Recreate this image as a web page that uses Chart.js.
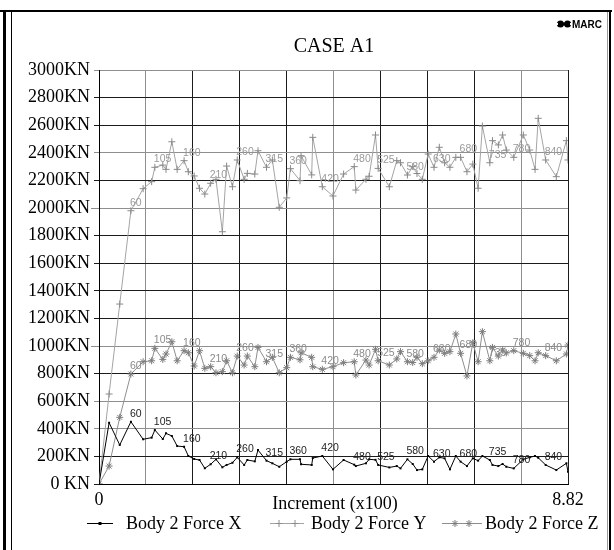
<!DOCTYPE html>
<html>
<head>
<meta charset="utf-8">
<script src="https://cdn.jsdelivr.net/npm/chart.js@4"></script>
<style>
  html, body { margin: 0; padding: 0; background: #fff; }
  canvas { display: block; }
</style>
</head>
<body>
<canvas id="chart" width="614" height="550"></canvas>
<script>
// Output increments (the x axis shows increment / 100)
const increments = [
  0, 19, 39, 60, 83, 99, 105, 120, 126, 137,
  147, 160, 168, 179, 189, 199, 210, 220, 232, 240,
  251, 260, 273, 279, 293, 299, 315, 326, 339, 353,
  360, 378, 380, 400, 402, 420, 440, 460, 480, 483,
  502, 508, 520, 525, 546, 560, 567, 580, 590, 598,
  608, 619, 630, 640, 650, 660, 671, 680, 692, 703,
  713, 721, 735, 740, 751, 759, 766, 780, 798, 810,
  820, 826, 840, 860, 879, 882
];

// Body 2 force components, KN
const forceX = [
  0, 444, 283, 451, 324, 336, 391, 326, 367, 348,
  275, 270, 203, 181, 174, 114, 143, 179, 121, 138,
  154, 193, 138, 174, 164, 246, 169, 150, 125, 162,
  179, 179, 143, 138, 188, 203, 106, 174, 140, 130,
  150, 179, 175, 138, 120, 130, 113, 179, 145, 101,
  106, 203, 162, 193, 186, 106, 203, 162, 130, 186,
  169, 203, 174, 138, 130, 145, 125, 113, 179, 193,
  203, 190, 138, 101, 150, 89
];
const forceY = [
  0, 652, 1304, 1980, 2140, 2191, 2295, 2311, 2280, 2480,
  2280, 2343, 2263, 2232, 2143, 2101, 2179, 2208, 1828, 2304,
  2154, 2348, 2208, 2251, 2246, 2415, 2295, 2348, 2005, 2073,
  2285, 2198, 2379, 2240, 2512, 2154, 2087, 2246, 2300, 2130,
  2208, 2230, 2529, 2287, 2154, 2343, 2328, 2239, 2300, 2250,
  2208, 2391, 2295, 2440, 2328, 2295, 2367, 2367, 2263, 2318,
  2143, 2594, 2328, 2488, 2457, 2529, 2420, 2367, 2529, 2420,
  2280, 2650, 2348, 2227, 2488, 2348
];
const forceZ = [
  0, 130, 483, 797, 886, 893, 983, 903, 942, 1031,
  893, 966, 951, 855, 966, 838, 850, 806, 814, 893,
  806, 927, 862, 927, 850, 990, 886, 918, 806, 843,
  918, 900, 951, 918, 850, 831, 850, 879, 886, 790,
  898, 862, 976, 893, 862, 906, 959, 886, 880, 918,
  872, 893, 918, 971, 947, 959, 1087, 947, 783, 1024,
  886, 1104, 893, 990, 927, 971, 950, 966, 947, 930,
  893, 951, 930, 893, 942, 1007
];

// Increments that carry a number tag on every curve
const taggedIncrements = [60, 105, 160, 210, 260, 315, 360, 420, 480, 525, 580, 630, 680, 735, 780, 840];

const seriesNames = ['Body 2 Force X', 'Body 2 Force Y', 'Body 2 Force Z'];
const xTickLabels = ['0', '8.82'];
const yTickValues = [0, 200, 400, 600, 800, 1000, 1200, 1400, 1600, 1800, 2000, 2200, 2400, 2600, 2800, 3000];
const longTickValues = [1000, 2000];
const xMax = 8.82;

const SERIF = '"Liberation Serif", "Times New Roman", serif';
const SANS = '"Liberation Sans", Arial, sans-serif';
const lineColours = ['#000000', '#a4a4a4', '#8e8e8e'];
const markColours = ['#000000', '#8a8a8a', '#7c7c7c'];
const tagColours = ['#1e1e1e', '#9a9a9a', '#8a8a8a'];
const greyRows = [400, 600, 1000, 2000, 2400, 3000];
const greyColumns = [1, 5, 9];
const GRID_DARK = '#1c1c1c';
const GRID_GREY = '#8f8f8f';

function toPoints(values) {
  return values.map((v, i) => ({ x: increments[i] / 100, y: v }));
}

// number tags beside selected points of each curve
const pointTags = {
  id: 'pointTags',
  afterDatasetsDraw(chart) {
    const c = chart.ctx;
    c.save();
    c.font = '10.5px ' + SANS;
    c.textAlign = 'left';
    c.textBaseline = 'alphabetic';
    chart.data.datasets.forEach((ds, di) => {
      const meta = chart.getDatasetMeta(di);
      c.fillStyle = tagColours[di];
      taggedIncrements.forEach(inc => {
        const i = increments.indexOf(inc);
        const p = meta.data[i];
        if (p) c.fillText(String(inc), p.x - 1, p.y - 5);
      });
    });
    c.restore();
  }
};

// longer grey ticks on the 1000 and 2000 rows
const longTicks = {
  id: 'longTicks',
  afterDraw(chart) {
    const c = chart.ctx;
    const ys = chart.scales.y;
    const left = chart.chartArea.left;
    c.save();
    c.strokeStyle = GRID_GREY;
    c.lineWidth = 1;
    longTickValues.forEach(v => {
      const py = Math.round(ys.getPixelForValue(v)) + 0.5;
      c.beginPath();
      c.moveTo(left - 8, py);
      c.lineTo(left, py);
      c.stroke();
    });
    c.restore();
  }
};

function drawMark(c, style, x, y, colour) {
  c.save();
  c.strokeStyle = colour;
  c.fillStyle = colour;
  c.lineWidth = 1;
  c.beginPath();
  if (style === 'dot') {
    c.fillRect(x - 1.5, y - 1.5, 3, 3);
  } else if (style === 'plus') {
    c.moveTo(x - 3.5, y); c.lineTo(x + 3.5, y);
    c.moveTo(x, y - 3.5); c.lineTo(x, y + 3.5);
    c.stroke();
  } else {
    c.moveTo(x - 3.5, y); c.lineTo(x + 3.5, y);
    c.moveTo(x, y - 3.5); c.lineTo(x, y + 3.5);
    c.moveTo(x - 2.5, y - 2.5); c.lineTo(x + 2.5, y + 2.5);
    c.moveTo(x - 2.5, y + 2.5); c.lineTo(x + 2.5, y - 2.5);
    c.stroke();
  }
  c.restore();
}

// page frame, heading, logo, x caption and legend
const decorations = {
  id: 'decorations',
  afterDraw(chart) {
    const c = chart.ctx;
    c.save();
    c.fillStyle = '#000';
    c.fillRect(0, 10, 612, 2);
    c.fillRect(3, 12, 3, 538);
    c.fillRect(11, 12, 1, 538);
    c.fillRect(609, 12, 2, 538);
    c.fillStyle = '#9a9a9a';
    c.fillRect(607, 12, 1, 538);

    // logo
    c.fillStyle = '#000';
    c.beginPath(); c.arc(560.5, 24, 3.6, 0, Math.PI * 2); c.fill();
    c.beginPath(); c.arc(567.5, 24, 3.6, 0, Math.PI * 2); c.fill();
    c.fillStyle = '#fff';
    c.fillRect(556, 23, 2, 2);
    c.fillRect(570, 23, 2, 2);
    c.fillRect(563.2, 20, 1.6, 1.6);
    c.fillRect(563.2, 26.4, 1.6, 1.6);
    c.fillStyle = '#000';
    c.font = 'bold 10px ' + SANS;
    c.textAlign = 'left';
    c.textBaseline = 'alphabetic';
    c.fillText('MARC', 572, 28);

    // heading
    c.font = '20px ' + SERIF;
    c.textAlign = 'center';
    c.fillText('CASE A1', 334, 52);

    // x caption
    c.font = '18px ' + SERIF;
    c.fillText('Increment (x100)', 335, 509);

    // legend
    const entries = [
      { x0: 87, x1: 113, text: 126, marks: [100], style: 'dot' },
      { x0: 270, x1: 304, text: 311, marks: [279, 295], style: 'plus' },
      { x0: 442, x1: 482, text: 485, marks: [455, 469], style: 'star' }
    ];
    const ly = 523;
    entries.forEach((e, i) => {
      c.strokeStyle = lineColours[i];
      c.lineWidth = 1;
      c.beginPath();
      c.moveTo(e.x0, ly + 0.5);
      c.lineTo(e.x1, ly + 0.5);
      c.stroke();
      e.marks.forEach(mx => drawMark(c, e.style, mx, ly + 0.5, markColours[i]));
      c.fillStyle = '#000';
      c.textAlign = 'left';
      c.font = '18px ' + SERIF;
      c.fillText(seriesNames[i], e.text, ly + 6);
    });
    c.restore();
  }
};

new Chart(document.getElementById('chart'), {
  type: 'line',
  data: {
    datasets: [
      {
        label: seriesNames[0], data: toPoints(forceX),
        borderColor: lineColours[0], borderWidth: 1,
        pointStyle: 'rect', pointRadius: 1.4, pointBackgroundColor: markColours[0],
        pointBorderColor: markColours[0], pointBorderWidth: 0
      },
      {
        label: seriesNames[1], data: toPoints(forceY),
        borderColor: lineColours[1], borderWidth: 1,
        pointStyle: 'cross', pointRadius: 3.5, pointBorderColor: markColours[1],
        pointBorderWidth: 1
      },
      {
        label: seriesNames[2], data: toPoints(forceZ),
        borderColor: lineColours[2], borderWidth: 1,
        pointStyle: 'star', pointRadius: 3.5, pointBorderColor: markColours[2],
        pointBorderWidth: 1
      }
    ]
  },
  options: {
    responsive: false,
    animation: false,
    devicePixelRatio: 1,
    layout: { padding: { left: 0, right: 46, top: 70, bottom: 26 } },
    elements: { line: { tension: 0, fill: false } },
    plugins: { legend: { display: false }, tooltip: { enabled: false }, title: { display: false } },
    scales: {
      x: {
        type: 'linear', min: 0, max: xMax,
        afterBuildTicks(scale) {
          const t = [];
          for (let i = 0; i <= 10; i++) t.push({ value: i === 10 ? xMax : xMax * i / 10 });
          scale.ticks = t;
        },
        afterFit(scale) { scale.height = 40; },
        ticks: {
          autoSkip: false, maxRotation: 0, padding: 5, color: '#000',
          font: { family: SERIF, size: 18 },
          callback(v, i, ticks) {
            if (i === 0) return xTickLabels[0];
            if (i === ticks.length - 1) return xTickLabels[1];
            return '';
          }
        },
        grid: {
          drawTicks: false,
          color: ctx => greyColumns.includes(ctx.index) ? GRID_GREY : GRID_DARK,
          lineWidth: 1
        },
        border: { display: true, color: '#000', width: 1 }
      },
      y: {
        min: 0, max: 3000,
        afterBuildTicks(scale) { scale.ticks = yTickValues.map(v => ({ value: v })); },
        afterFit(scale) { scale.width = 99; },
        ticks: {
          padding: 4, color: '#000',
          font: { family: SERIF, size: 18 },
          callback: v => (v === 0 ? '0 KN' : v + 'KN')
        },
        grid: {
          tickLength: 5,
          color: ctx => (ctx.tick && greyRows.includes(ctx.tick.value)) ? GRID_GREY : GRID_DARK,
          lineWidth: 1
        },
        border: { display: true, color: '#000', width: 1 }
      }
    }
  },
  plugins: [pointTags, longTicks, decorations]
});
</script>
</body>
</html>
